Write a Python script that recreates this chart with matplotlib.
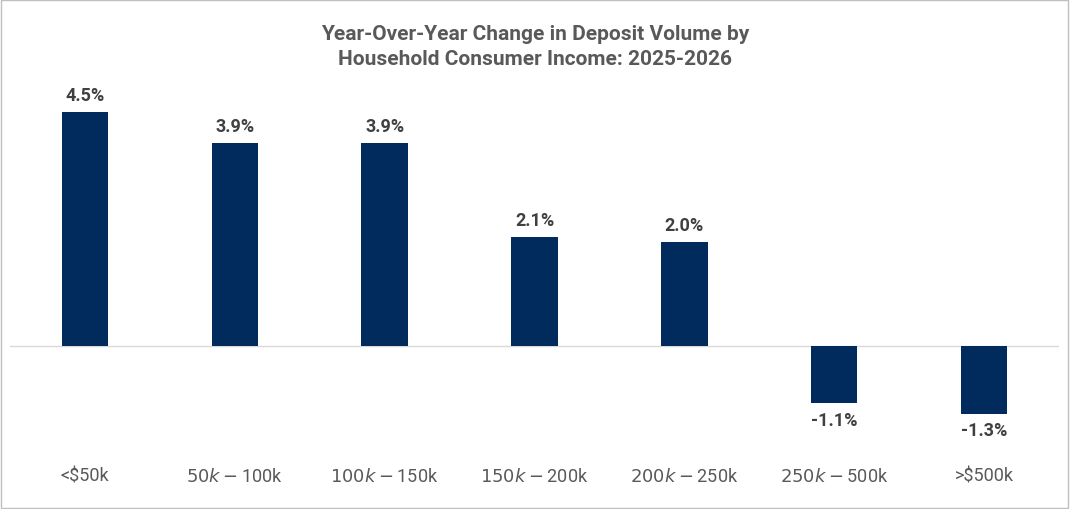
import matplotlib
matplotlib.use("Agg")
import matplotlib.pyplot as plt
from matplotlib.patches import Rectangle

categories = ["<$50k", "$50k-$100k", "$100k-$150k", "$150k-$200k",
              "$200k-$250k", "$250k-$500k", ">$500k"]
changes = [4.5, 3.9, 3.9, 2.1, 2.0, -1.1, -1.3]

plt.rcParams["font.family"] = ["Roboto", "DejaVu Sans"]
BAR = "#002b5c"
TXT = "#595959"

fig = plt.figure(figsize=(10.7, 5.1), dpi=100)
fig.patches.append(Rectangle((0.001, 0.002), 0.997, 0.996, transform=fig.transFigure,
                             fill=False, edgecolor="#bfbfbf", linewidth=1))

W, H = 1070, 510
ax = fig.add_axes([10 / W, 1 - 440 / H, 1049 / W, 360 / H])
x = range(len(categories))
ax.bar(x, changes, width=0.31, color=BAR, zorder=2)
ax.axhline(0, color="#d9d9d9", linewidth=1, zorder=1)
ax.set_xlim(-0.5, len(categories) - 0.5)
ax.set_ylim(-1.79, 5.13)
ax.axis("off")

for i, v in zip(x, changes):
    off = 0.15 if v >= 0 else -0.15
    ax.text(i, v + off, f"{v:.1f}%", ha="center", va="bottom" if v >= 0 else "top",
            fontsize=13, fontweight="bold", color="#404040")
    ax.text(i, -2.5, categories[i], ha="center", va="center", fontsize=13, color=TXT)

fig.text(0.5, 1 - 47 / H, "Year-Over-Year Change in Deposit Volume by\nHousehold Consumer Income: 2025-2026",
         ha="center", va="center", fontsize=15, fontweight="bold", color=TXT, linespacing=1.35)

fig.savefig("out.png", dpi=100)
